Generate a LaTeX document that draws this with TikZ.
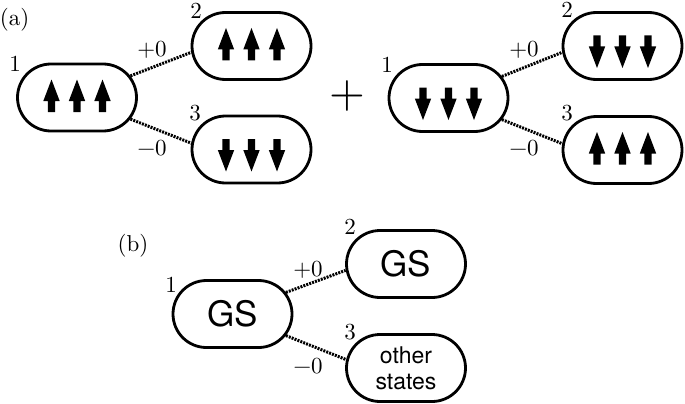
\documentclass[tikz,border=0pt]{standalone}
\usepackage{fontspec}
\setmainfont{Latin Modern Roman}[OpticalSize=10]
\newfontfamily\gsfont{TeX Gyre Heros}
\usetikzlibrary{shapes.misc}
\tikzset{
  state/.style={draw, line width=2.8pt, rounded rectangle, minimum width=119pt, minimum height=67pt, inner sep=0pt},
  conn/.style={line width=3pt, dash pattern=on 2pt off 1.1pt},
  lbl/.style={inner sep=0pt, font=\fontsize{23}{27}\selectfont},
  spinup/.pic={\fill (-3.7,16) -- (-3.7,5) -- (-8.2,5) -- (0,-16.5) -- (8.2,5) -- (3.7,5) -- (3.7,16) -- cycle;},
  spindown/.pic={\fill (-3.7,-16) -- (-3.7,-5) -- (-8.2,-5) -- (0,16.5) -- (8.2,-5) -- (3.7,-5) -- (3.7,-16) -- cycle;},
  upthree/.pic={\pic at (-25.5,-1.5) {spinup}; \pic at (0,-1.5) {spinup}; \pic at (25.5,-1.5) {spinup};},
  downthree/.pic={\pic at (-25.5,5.5) {spindown}; \pic at (0,5.5) {spindown}; \pic at (25.5,5.5) {spindown};},
}
\begin{document}
\begin{tikzpicture}[x=1pt,y=-1pt]
\useasboundingbox (0,0) rectangle (685,404);
% panel (a), left
\node[lbl] (pa) at (14.5,20) {(a)};
\node[state] (a1) at (77,97.5) {};
\node[state] (a2) at (251.5,46) {};
\node[state] (a3) at (251.5,149.5) {};
\pic at (a1) {upthree};
\pic at (a2) {upthree};
\pic at (a3) {downthree};
\node[lbl] (la1) at (15,64) {1};
\node[lbl] (la2) at (196,11) {2};
\node[lbl] (la3) at (195,113.5) {3};
\draw[conn] (a1.22) -- (a2.186);
\draw[conn] (a1.-22) -- (a3.174);
\node[lbl] (pa1) at (152,50) {+0};
\node[lbl] (ma1) at (152,148) {−0};
% plus
\node[inner sep=0pt, font=\fontsize{46}{50}\selectfont] (plus) at (347,96) {+};
% panel (a), right
\node[state] (b1) at (448.5,98) {};
\node[state] (b2) at (622.5,46) {};
\node[state] (b3) at (622.5,150) {};
\pic at (b1) {downthree};
\pic at (b2) {downthree};
\pic at (b3) {upthree};
\node[lbl] (lb1) at (387,65) {1};
\node[lbl] (lb2) at (567,10) {2};
\node[lbl] (lb3) at (567,113) {3};
\draw[conn] (b1.22) -- (b2.186);
\draw[conn] (b1.-22) -- (b3.174);
\node[lbl] (pb1) at (524,50) {+0};
\node[lbl] (mb1) at (524,148) {−0};
% panel (b)
\node[lbl] (pb) at (133,246) {(b)};
\node[state, font=\gsfont\fontsize{35}{40}\selectfont] (c1) at (232.5,314) {GS};
\node[state, font=\gsfont\fontsize{35}{40}\selectfont] (c2) at (406,264) {GS};
\node[state, align=center, font=\gsfont\fontsize{23}{26}\selectfont] (c3) at (406,368) {other\\states};
\node[lbl] (lc1) at (171,285) {1};
\node[lbl] (lc2) at (350,227) {2};
\node[lbl] (lc3) at (350,332) {3};
\draw[conn] (c1.22) -- (c2.186);
\draw[conn] (c1.-22) -- (c3.172);
\node[lbl] (pc1) at (308,270) {+0};
\node[lbl] (mc1) at (308,366) {−0};
\end{tikzpicture}
\end{document}
